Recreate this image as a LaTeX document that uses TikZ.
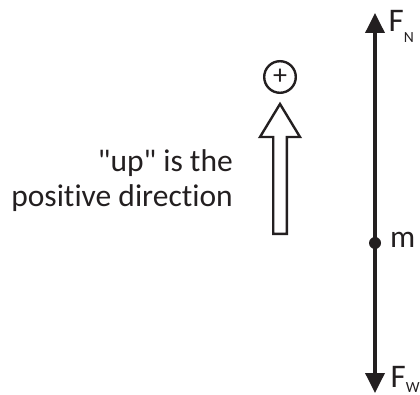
\documentclass[tikz,border=0pt]{standalone}
\usepackage{fontspec}
\setmainfont{Carlito}[Ligatures={NoCommon,TeXOff}]
\usetikzlibrary{arrows.meta,positioning}
\definecolor{ink}{RGB}{35,31,32}
\newcommand\subfont{\fontsize{15.5}{15.5}\selectfont}
\tikzset{
  force/.style={-{Triangle[length=20pt,width=19pt]},line width=3.6pt,draw=ink},
  lbl/.style={font=\fontsize{31.5}{35}\selectfont,text=ink,inner sep=0pt},
  flbl/.style={font=\fontsize{33}{35}\selectfont,text=ink,inner sep=0pt,anchor=base west},
  sign/.style={circle,draw=ink,line width=2.4pt,minimum size=31.6pt,inner sep=0pt,
    font=\fontsize{28}{28}\selectfont,text=ink},
  hollow/.style={draw=ink,line width=2.4pt,fill=white,line join=miter},
  mass/.style={circle,fill=ink,minimum size=12pt,inner sep=0pt},
}
\begin{document}
\begin{tikzpicture}[x=1pt,y=1pt]
  \useasboundingbox (0,0) rectangle (420,394);
  % forces on the mass
  \node[mass] (m) at (375,151) {};
  \coordinate (top) at (375,381);
  \coordinate (bot) at (375,1);
  \draw[force] (m.center) -- (top);
  \draw[force] (m.center) -- (bot);
  \node[flbl] (fn) at (388.5,362) {F\raisebox{-11pt}{\subfont N}};
  \node[flbl] (fw) at (390.5,7) {F\raisebox{-5pt}{\subfont W}};
  \node[lbl,anchor=base west] (mlbl) at (390,147) {m};
  % sign convention
  \node[sign] (plus) at (280,317) {+};
  \draw[hollow] (273.2,160.2) -- (273.2,257) -- (260,257) -- (280,290) -- (300,257)
    -- (286.8,257) -- (286.8,160.2) -- cycle;
  \node[lbl,align=right,anchor=base east] (note) at (233,187)
    {"up" is the\\positive direction};
\end{tikzpicture}
\end{document}
